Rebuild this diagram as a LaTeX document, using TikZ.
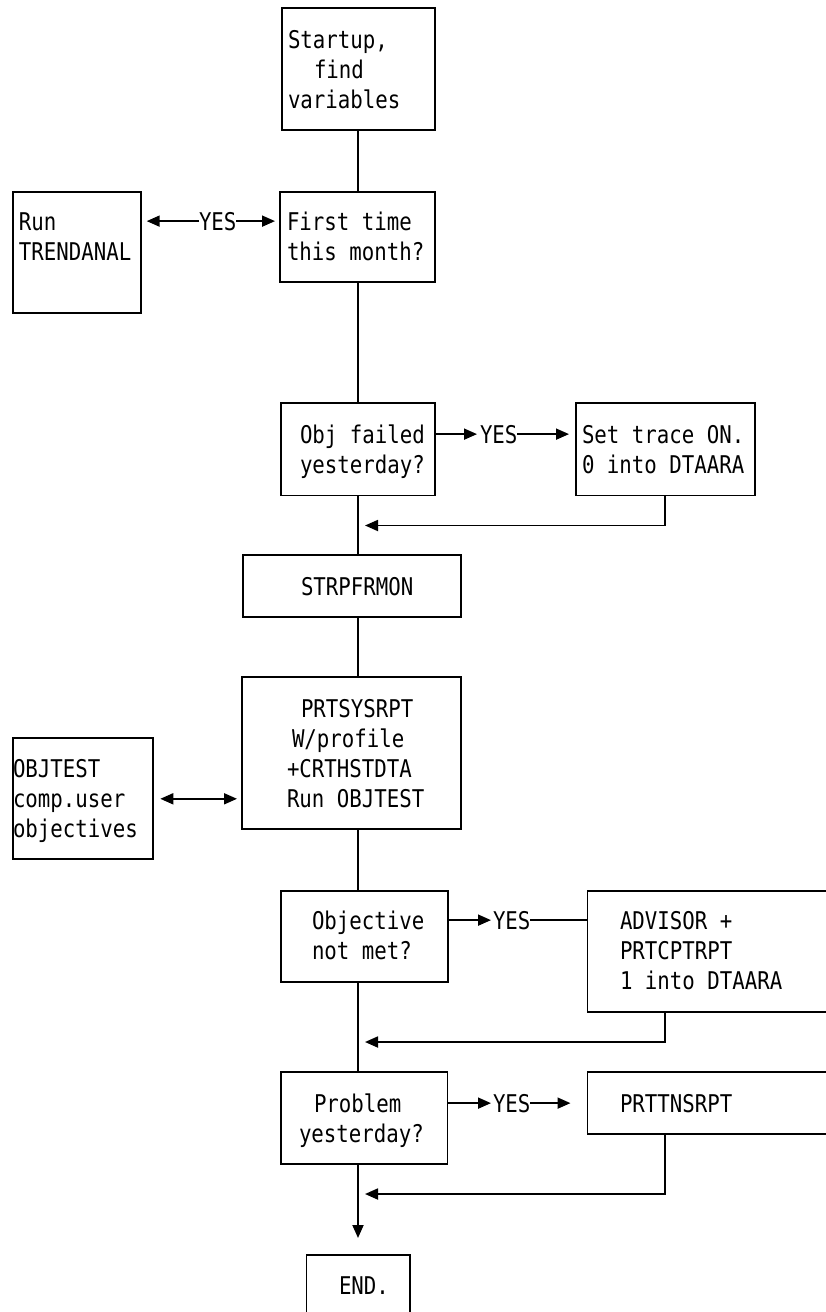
\documentclass[tikz,border=0pt]{standalone}
\usepackage{fontspec}
\usetikzlibrary{arrows.meta,calc}
\newfontfamily\chartfont[FakeStretch=0.85]{DejaVu Sans Mono}

\begin{document}
\begin{tikzpicture}[x=1pt,y=-1pt,
  every node/.style={inner sep=0pt, outer sep=0pt},
  box/.style={draw, line width=1.8pt, anchor=north west},
  txt/.style={anchor=base west, font=\chartfont\fontsize{24.4}{30}\selectfont},
  link/.style={line width=1.8pt},
  arr/.style={link, -{Triangle[length=13pt,width=11pt]}},
  twoway/.style={link, {Triangle[length=13pt,width=11pt]}-{Triangle[length=13pt,width=11pt]}}]

\useasboundingbox (0,0) rectangle (826,1312);
\fill[white] (0,0) rectangle (826,1312);
\clip (0,0) rectangle (826,1312);

% columns used by the connectors
\coordinate (spine) at (358,0);
\coordinate (back) at (665,0);

% boxes
\node[box, minimum width=153.3pt, minimum height=121.7pt] (start) at (281.7,8.3) {};
\node[box, minimum width=155pt,   minimum height=90pt]    (first) at (280,191.7) {};
\node[box, minimum width=128pt,   minimum height=121pt]   (run)   at (12.7,191.7) {};
\node[box, minimum width=154pt,   minimum height=92.5pt]  (objf)  at (281,403) {};
\node[box, minimum width=179pt,   minimum height=92.5pt]  (settr) at (576,403) {};
\node[box, minimum width=218pt,   minimum height=62pt]    (strp)  at (243,555) {};
\node[box, minimum width=219pt,   minimum height=152pt]   (prt)   at (242,677) {};
\node[box, minimum width=140.6pt, minimum height=121pt]   (objt)  at (12.7,738.3) {};
\node[box, minimum width=167pt,   minimum height=91pt]    (objv)  at (281,891) {};
\node[box, minimum width=260pt,   minimum height=121pt]   (adv)   at (587.5,891) {};
\node[box, minimum width=166.5pt, minimum height=92pt]    (prob)  at (281,1072) {};
\node[box, minimum width=260pt,   minimum height=62pt]    (prtt)  at (587.5,1072) {};
\node[box, minimum width=103.5pt, minimum height=80pt]    (end)   at (306.5,1255) {};

% box texts
\node[txt] (t1a) at (288,48)  {Startup,};
\node[txt] (t1b) at (314,78)  {find};
\node[txt] (t1c) at (288,108) {variables};
\node[txt] (t2a) at (287,230) {First time};
\node[txt] (t2b) at (287,260) {this month?};
\node[txt] (t3a) at (19,230)  {Run};
\node[txt] (t3b) at (19,260)  {TRENDANAL};
\node[txt] (t4a) at (300,443) {Obj failed};
\node[txt] (t4b) at (300,473) {yesterday?};
\node[txt] (t5a) at (582,443) {Set trace ON.};
\node[txt] (t5b) at (582,473) {0 into DTAARA};
\node[txt] (t6)  at (301,595) {STRPFRMON};
\node[txt] (t7a) at (301,717) {PRTSYSRPT};
\node[txt] (t7b) at (292,747) {W/profile};
\node[txt] (t7c) at (287,777) {+CRTHSTDTA};
\node[txt] (t7d) at (287,807) {Run OBJTEST};
\node[txt] (t8a) at (13,777)  {OBJTEST};
\node[txt] (t8b) at (13,807)  {comp.user};
\node[txt] (t8c) at (13,837)  {objectives};
\node[txt] (t9a) at (312,929) {Objective};
\node[txt] (t9b) at (312,959) {not met?};
\node[txt] (t10a) at (620,929) {ADVISOR +};
\node[txt] (t10b) at (620,959) {PRTCPTRPT};
\node[txt] (t10c) at (620,989) {1 into DTAARA};
\node[txt] (t11a) at (314,1112) {Problem};
\node[txt] (t11b) at (299,1142) {yesterday?};
\node[txt] (t12) at (620,1112) {PRTTNSRPT};
\node[txt] (t13) at (339,1294) {END.};

% branch labels
\node[txt] (yes1) at (199,230)  {YES};
\node[txt] (yes2) at (480,443)  {YES};
\node[txt] (yes3) at (493,929)  {YES};
\node[txt] (yes4) at (493,1112) {YES};

% main flow
\draw[link] (start.south -| spine) -- (first.north -| spine);
\draw[link] (first.south -| spine) -- (objf.north -| spine);
\draw[link] (objf.south -| spine) -- (strp.north -| spine);
\draw[link] (strp.south -| spine) -- (prt.north -| spine);
\draw[link] (prt.south -| spine) -- (objv.north -| spine);
\draw[link] (objv.south -| spine) -- (prob.north -| spine);
\draw[arr, shorten >=17pt] (prob.south -| spine) -- (end.north -| spine);

% YES branches
\draw[arr, shorten >=6pt] (yes1.west) -- (yes1.west -| run.east);
\draw[arr, shorten >=5pt] (yes1.east) -- (yes1.east -| first.west);
\draw[arr, shorten >=3pt] (yes2.west -| objf.east) -- (yes2.west);
\draw[arr, shorten >=7pt] (yes2.east) -- (yes2.east -| settr.west);
\draw[arr, shorten >=2pt] (yes3.west -| objv.east) -- (yes3.west);
\draw[link] (yes3.east) -- (yes3.east -| adv.west);
\draw[arr, shorten >=2pt] (yes4.west -| prob.east) -- (yes4.west);
\draw[arr, shorten >=17pt] (yes4.east) -- (yes4.east -| prtt.west);

% returns into the main flow
\draw[arr] (settr.south -| back) |- ($(spine |- settr.south)+(7,30)$);
\draw[arr] (adv.south -| back) |- ($(spine |- adv.south)+(7,30)$);
\draw[arr] (prtt.south -| back) |- ($(spine |- prtt.south)+(7,60)$);

% OBJTEST exchange
\draw[twoway, shorten <=7pt, shorten >=5pt] (objt.east) -- (objt.east -| prt.west);
\end{tikzpicture}
\end{document}
